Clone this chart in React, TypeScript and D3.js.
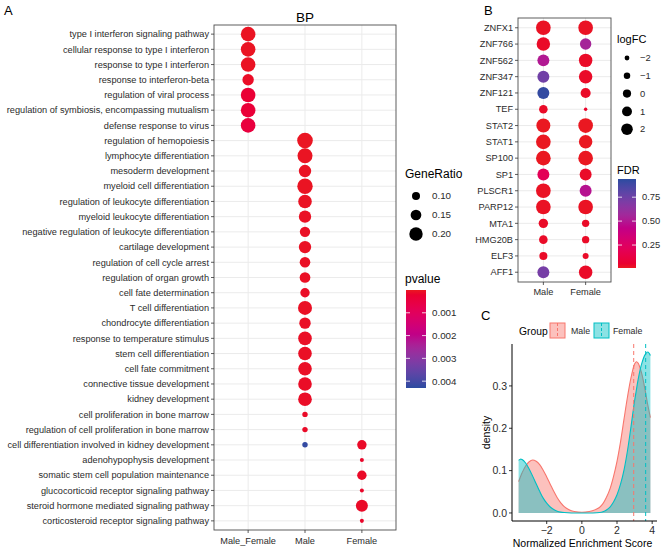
import React from 'react';
import * as d3 from 'd3';

const FONT = "'Liberation Sans', Arial, Helvetica, sans-serif";

// ---------- Panel A data ----------
const bpGroups = ['Male_Female', 'Male', 'Female'];
const bpTerms = [
  'type I interferon signaling pathway',
  'cellular response to type I interferon',
  'response to type I interferon',
  'response to interferon-beta',
  'regulation of viral process',
  'regulation of symbiosis, encompassing mutualism',
  'defense response to virus',
  'regulation of hemopoiesis',
  'lymphocyte differentiation',
  'mesoderm development',
  'myeloid cell differentiation',
  'regulation of leukocyte differentiation',
  'myeloid leukocyte differentiation',
  'negative regulation of leukocyte differentiation',
  'cartilage development',
  'regulation of cell cycle arrest',
  'regulation of organ growth',
  'cell fate determination',
  'T cell differentiation',
  'chondrocyte differentiation',
  'response to temperature stimulus',
  'stem cell differentiation',
  'cell fate commitment',
  'connective tissue development',
  'kidney development',
  'cell proliferation in bone marrow',
  'regulation of cell proliferation in bone marrow',
  'cell differentiation involved in kidney development',
  'adenohypophysis development',
  'somatic stem cell population maintenance',
  'glucocorticoid receptor signaling pathway',
  'steroid hormone mediated signaling pathway',
  'corticosteroid receptor signaling pathway',
];
const dotTermIndex = [
  0, 1, 2, 3, 4, 5, 6,
  7, 8, 9, 10, 11, 12, 13, 14, 15, 16, 17, 18, 19, 20, 21, 22, 23, 24, 25, 26, 27,
  27, 28, 29, 30, 31, 32,
];
const dotGroup = [
  'Male_Female', 'Male_Female', 'Male_Female', 'Male_Female', 'Male_Female', 'Male_Female', 'Male_Female',
  'Male', 'Male', 'Male', 'Male', 'Male', 'Male', 'Male', 'Male', 'Male', 'Male', 'Male', 'Male', 'Male', 'Male', 'Male', 'Male', 'Male', 'Male', 'Male', 'Male', 'Male',
  'Female', 'Female', 'Female', 'Female', 'Female', 'Female',
];
const dotGeneRatio = [
  0.222, 0.222, 0.222, 0.163, 0.222, 0.222, 0.222,
  0.241, 0.230, 0.181, 0.237, 0.204, 0.181, 0.144, 0.181, 0.148, 0.15, 0.126, 0.211, 0.163, 0.204, 0.204, 0.204, 0.204, 0.204, 0.052, 0.052, 0.052,
  0.126, 0.026, 0.126, 0.026, 0.174, 0.026,
];
const dotPvalue = [
  0.00003, 0.00003, 0.00004, 0.00008, 0.0003, 0.00035, 0.00045,
  0.00002, 0.00003, 0.00004, 0.00003, 0.00004, 0.00005, 0.00006, 0.00005, 0.00006, 0.00006, 0.00008, 0.00006, 0.00007, 0.00007, 0.00007, 0.00007, 0.00008, 0.00008, 0.0001, 0.0001, 0.0042,
  0.0001, 0.00012, 0.0001, 0.00012, 0.0001, 0.00012,
];
const geneRatioBreaks = [0.1, 0.15, 0.2];
const pvalueBreaks = [0.001, 0.002, 0.003, 0.004];

// ---------- Panel B data ----------
const tfGenes = ['ZNFX1', 'ZNF766', 'ZNF562', 'ZNF347', 'ZNF121', 'TEF', 'STAT2', 'STAT1', 'SP100', 'SP1', 'PLSCR1', 'PARP12', 'MTA1', 'HMG20B', 'ELF3', 'AFF1'];
const tfGroups = ['Male', 'Female'];
const logFCMale = [3.8, 3.1, 2.2, 2.2, 2.2, 0.2, 3.4, 3.8, 3.8, 2.2, 3.8, 3.8, 0.7, 0.2, -0.1, 2.2];
const logFCFemale = [3.8, 1.9, 3.1, 3.1, 1.1, -2.8, 3.8, 3.1, 3.8, 2.2, 2.2, 3.8, -0.5, -0.5, -1.3, 3.1];
const fdrMale = [0.02, 0.03, 0.5, 0.74, 0.92, 0.03, 0.01, 0.01, 0.01, 0.2, 0.02, 0.02, 0.03, 0.03, 0.03, 0.72];
const fdrFemale = [0.02, 0.55, 0.03, 0.03, 0.03, 0.04, 0.01, 0.01, 0.01, 0.03, 0.48, 0.02, 0.03, 0.03, 0.03, 0.03];
const logFCBreaks = [-2, -1, 0, 1, 2];
const fdrBreaks = [0.25, 0.5, 0.75];

// ---------- Panel C data ----------
const nesGrid = [-3.6, -3.5, -3.4, -3.2, -3.0, -2.8, -2.6, -2.4, -2.2, -2.0, -1.8, -1.6, -1.4, -1.2, -1.0, -0.6, -0.2, 0.2, 0.6, 1.0, 1.2, 1.4, 1.6, 1.8, 2.0, 2.2, 2.4, 2.6, 2.8, 3.0, 3.1, 3.2, 3.4, 3.6, 3.75, 3.9];
const densityMale = [0.074, 0.085, 0.095, 0.111, 0.121, 0.125, 0.122, 0.114, 0.101, 0.085, 0.068, 0.051, 0.036, 0.024, 0.015, 0.005, 0.002, 0.002, 0.005, 0.013, 0.022, 0.037, 0.057, 0.086, 0.122, 0.168, 0.222, 0.275, 0.32, 0.352, 0.357, 0.354, 0.33, 0.29, 0.255, 0.225];
const densityFemale = [0.124, 0.127, 0.126, 0.118, 0.104, 0.087, 0.069, 0.051, 0.035, 0.023, 0.014, 0.008, 0.004, 0.002, 0.001, 0.0, 0.0, 0.0, 0.0, 0.001, 0.003, 0.007, 0.014, 0.026, 0.043, 0.068, 0.102, 0.148, 0.205, 0.265, 0.29, 0.315, 0.352, 0.374, 0.38, 0.372];
const groupNames = ['Male', 'Female'];
const groupMeans = [2.95, 3.63];
const groupColors = ['#F8766D', '#00BFC4'];
const nesTicks = [-2, 0, 2, 4];
const densityTicks = [0, 0.1, 0.2, 0.3];

const RED = '#EA1821';
const BLUE = '#2B4BA0';
const TXT = '#2b2b2b';

function fmtMinus(v: number, digits = 0) {
  const s = v.toFixed(digits);
  return s.replace('-', '\u2212');
}

export default function App() {
  // ----- Panel A -----
  const aL = 214, aR = 396, aT = 25, aB = 530;
  const xA = d3.scalePoint<string>().domain(bpGroups).range([aL, aR]).padding(0.6);
  const yA = d3.scalePoint<string>().domain(bpTerms).range([aT, aB]).padding(0.6);
  const rA = d3.scaleLinear().domain([0.1, 0.2]).range([4, 6.7]);
  const cA = d3.scaleLinear<string>().domain([0, 0.0043]).range([RED, BLUE]).interpolate(d3.interpolateHcl);
  const barAy = d3.scaleLinear().domain([0, 0.0043]).range([290, 388]);

  // ----- Panel B -----
  const bL = 518, bR = 611, bT = 18, bB = 282;
  const xB = d3.scalePoint<string>().domain(tfGroups).range([bL, bR]).padding(0.6);
  const yB = d3.scalePoint<string>().domain(tfGenes).range([bT, bB]).padding(0.6);
  const rB = d3.scaleLinear().domain([-2, 2]).range([2.4, 5.8]);
  const cB = d3.scaleLinear<string>().domain([0.01, 0.94]).range([RED, BLUE]).interpolate(d3.interpolateHcl);
  const barBy = d3.scaleLinear().domain([0.01, 0.94]).range([268, 179]);

  // ----- Panel C -----
  const cL = 512, cR = 657, cT = 344, cBt = 521;
  const xC = d3.scaleLinear().domain([-3.975, 4.275]).range([cL, cR]);
  const yC = d3.scaleLinear().domain([-0.019, 0.399]).range([cBt, cT]);
  const dens = [densityMale, densityFemale];
  const area = d3.area<number>()
    .x((_, i) => xC(nesGrid[i]))
    .y0(() => yC(0))
    .y1((d) => yC(d))
    .curve(d3.curveCatmullRom);
  const line = d3.line<number>()
    .x((_, i) => xC(nesGrid[i]))
    .y((d) => yC(d))
    .curve(d3.curveCatmullRom);

  const gradStops = d3.range(0, 1.0001, 0.05);

  return (
    <svg width={666} height={557} style={{ position: 'absolute', left: 0, top: 0, background: '#fff' }} fontFamily={FONT}>
      <defs>
        <linearGradient id="gradA" x1="0" y1="0" x2="0" y2="1">
          {gradStops.map((t) => (
            <stop key={t} offset={t} stopColor={cA(barAy.invert(290 + t * 98))} />
          ))}
        </linearGradient>
        <linearGradient id="gradB" x1="0" y1="0" x2="0" y2="1">
          {gradStops.map((t) => (
            <stop key={t} offset={t} stopColor={cB(barBy.invert(179 + t * 89))} />
          ))}
        </linearGradient>
      </defs>
      <rect x={0} y={0} width={666} height={557} fill="#fff" />

      {/* Panel labels */}
      <text x={4} y={15} fontSize={13} fill="#000">A</text>
      <text x={484} y={15} fontSize={13} fill="#000">B</text>
      <text x={481} y={320} fontSize={13} fill="#000">C</text>

      {/* ========== Panel A ========== */}
      <text x={(aL + aR) / 2} y={22} fontSize={13.5} textAnchor="middle" fill="#000">BP</text>
      {bpTerms.map((t) => (
        <line key={'gh' + t} x1={aL} x2={aR} y1={yA(t)} y2={yA(t)} stroke="#EBEBEB" strokeWidth={1} />
      ))}
      {bpGroups.map((g) => (
        <line key={'gv' + g} x1={xA(g)} x2={xA(g)} y1={aT} y2={aB} stroke="#EBEBEB" strokeWidth={1} />
      ))}
      {dotTermIndex.map((ti, i) => (
        <circle key={'d' + i} cx={xA(dotGroup[i])} cy={yA(bpTerms[ti])} r={rA(dotGeneRatio[i])} fill={cA(dotPvalue[i])} />
      ))}
      <rect x={aL} y={aT} width={aR - aL} height={aB - aT} fill="none" stroke="#4d4d4d" strokeWidth={0.9} />
      {bpTerms.map((t) => (
        <g key={'yl' + t}>
          <line x1={aL - 3} x2={aL} y1={yA(t)} y2={yA(t)} stroke="#333" strokeWidth={0.8} />
          <text x={aL - 5} y={yA(t)} dy="0.35em" fontSize={9.2} textAnchor="end" fill={TXT}>{t}</text>
        </g>
      ))}
      {bpGroups.map((g) => (
        <g key={'xl' + g}>
          <line x1={xA(g)} x2={xA(g)} y1={aB} y2={aB + 3} stroke="#333" strokeWidth={0.8} />
          <text x={xA(g)} y={aB + 14} fontSize={9.2} textAnchor="middle" fill={TXT}>{g}</text>
        </g>
      ))}

      {/* Legend A: GeneRatio */}
      <text x={405} y={178} fontSize={12} fill="#000">GeneRatio</text>
      {geneRatioBreaks.map((b, i) => (
        <g key={'gr' + b}>
          <circle cx={416} cy={196 + i * 19} r={rA(b)} fill="#000" />
          <text x={432} y={196 + i * 19} dy="0.35em" fontSize={9.8} fill={TXT}>{b.toFixed(2)}</text>
        </g>
      ))}
      {/* Legend A: pvalue */}
      <text x={405} y={283} fontSize={12} fill="#000">pvalue</text>
      <rect x={406} y={290} width={20} height={98} fill="url(#gradA)" />
      {pvalueBreaks.map((b) => (
        <g key={'pv' + b}>
          <line x1={406} x2={410} y1={barAy(b)} y2={barAy(b)} stroke="#fff" strokeWidth={0.8} />
          <line x1={422} x2={426} y1={barAy(b)} y2={barAy(b)} stroke="#fff" strokeWidth={0.8} />
          <text x={432} y={barAy(b)} dy="0.35em" fontSize={9.8} fill={TXT}>{b.toFixed(3)}</text>
        </g>
      ))}

      {/* ========== Panel B ========== */}
      {tfGenes.map((g) => (
        <line key={'bgh' + g} x1={bL} x2={bR} y1={yB(g)} y2={yB(g)} stroke="#EBEBEB" strokeWidth={1} />
      ))}
      {tfGroups.map((g) => (
        <line key={'bgv' + g} x1={xB(g)} x2={xB(g)} y1={bT} y2={bB} stroke="#EBEBEB" strokeWidth={1} />
      ))}
      {tfGenes.map((g, i) => (
        <g key={'bd' + g}>
          <circle cx={xB('Male')} cy={yB(g)} r={rB(logFCMale[i])} fill={cB(fdrMale[i])} />
          <circle cx={xB('Female')} cy={yB(g)} r={rB(logFCFemale[i])} fill={cB(fdrFemale[i])} />
        </g>
      ))}
      <rect x={bL} y={bT} width={bR - bL} height={bB - bT} fill="none" stroke="#4d4d4d" strokeWidth={0.9} />
      {tfGenes.map((g) => (
        <g key={'byl' + g}>
          <line x1={bL - 3} x2={bL} y1={yB(g)} y2={yB(g)} stroke="#333" strokeWidth={0.8} />
          <text x={bL - 5} y={yB(g)} dy="0.35em" fontSize={9.2} textAnchor="end" fill={TXT}>{g}</text>
        </g>
      ))}
      {tfGroups.map((g) => (
        <g key={'bxl' + g}>
          <line x1={xB(g)} x2={xB(g)} y1={bB} y2={bB + 3} stroke="#333" strokeWidth={0.8} />
          <text x={xB(g)} y={bB + 13} fontSize={9.2} textAnchor="middle" fill={TXT}>{g}</text>
        </g>
      ))}
      {/* Legend B: logFC */}
      <text x={617} y={43} fontSize={11} fill="#000">logFC</text>
      {logFCBreaks.map((b, i) => (
        <g key={'lf' + b}>
          <circle cx={627} cy={58 + i * 17.8} r={rB(b)} fill="#000" />
          <text x={640} y={58 + i * 17.8} dy="0.35em" fontSize={9.4} fill={TXT}>{fmtMinus(b)}</text>
        </g>
      ))}
      {/* Legend B: FDR */}
      <text x={617} y={174} fontSize={11} fill="#000">FDR</text>
      <rect x={618} y={179} width={18} height={89} fill="url(#gradB)" />
      {fdrBreaks.map((b) => (
        <g key={'fd' + b}>
          <line x1={618} x2={622} y1={barBy(b)} y2={barBy(b)} stroke="#fff" strokeWidth={0.8} />
          <line x1={632} x2={636} y1={barBy(b)} y2={barBy(b)} stroke="#fff" strokeWidth={0.8} />
          <text x={642} y={barBy(b)} dy="0.35em" fontSize={9.4} fill={TXT}>{b.toFixed(2)}</text>
        </g>
      ))}

      {/* ========== Panel C ========== */}
      {dens.map((d, gi) => (
        <g key={'den' + gi}>
          <path d={area(d) || ''} fill={groupColors[gi]} fillOpacity={0.45} stroke="none" />
          <path d={line(d) || ''} fill="none" stroke={groupColors[gi]} strokeWidth={1.1} />
        </g>
      ))}
      {groupMeans.map((m, gi) => (
        <line key={'vl' + gi} x1={xC(m)} x2={xC(m)} y1={cT} y2={cBt} stroke={groupColors[gi]} strokeWidth={1} strokeDasharray="4,3" />
      ))}
      <line x1={cL} x2={cL} y1={cT} y2={cBt} stroke="#000" strokeWidth={1} />
      <line x1={cL} x2={cR} y1={cBt} y2={cBt} stroke="#000" strokeWidth={1} />
      {densityTicks.map((t) => (
        <g key={'yt' + t}>
          <line x1={cL - 3} x2={cL} y1={yC(t)} y2={yC(t)} stroke="#000" strokeWidth={0.8} />
          <text x={cL - 5} y={yC(t)} dy="0.35em" fontSize={10.5} textAnchor="end" fill={TXT}>{t.toFixed(1)}</text>
        </g>
      ))}
      {nesTicks.map((t) => (
        <g key={'xt' + t}>
          <line x1={xC(t)} x2={xC(t)} y1={cBt} y2={cBt + 3} stroke="#000" strokeWidth={0.8} />
          <text x={xC(t)} y={cBt + 13} fontSize={10.5} textAnchor="middle" fill={TXT}>{fmtMinus(t)}</text>
        </g>
      ))}
      <text x={(cL + cR) / 2 - 2} y={547} fontSize={10.5} textAnchor="middle" fill="#000">Normalized Enrichment Score</text>
      <text transform={`translate(490, ${(cT + cBt) / 2}) rotate(-90)`} fontSize={10.5} textAnchor="middle" fill="#000">density</text>

      {/* Legend C */}
      <text x={519} y={335} fontSize={10.3} fill="#000">Group</text>
      {groupNames.map((g, gi) => {
        const kx = gi === 0 ? 550 : 594;
        const lx = gi === 0 ? 571 : 613;
        return (
          <g key={'lg' + g}>
            <rect x={kx} y={323} width={15} height={15} fill={groupColors[gi]} fillOpacity={0.45} stroke={groupColors[gi]} strokeWidth={1} />
            <line x1={kx + 7.5} x2={kx + 7.5} y1={323} y2={338} stroke={groupColors[gi]} strokeWidth={1} strokeDasharray="3,2" />
            <text x={lx} y={334} fontSize={8.8} fill={TXT}>{g}</text>
          </g>
        );
      })}
    </svg>
  );
}
